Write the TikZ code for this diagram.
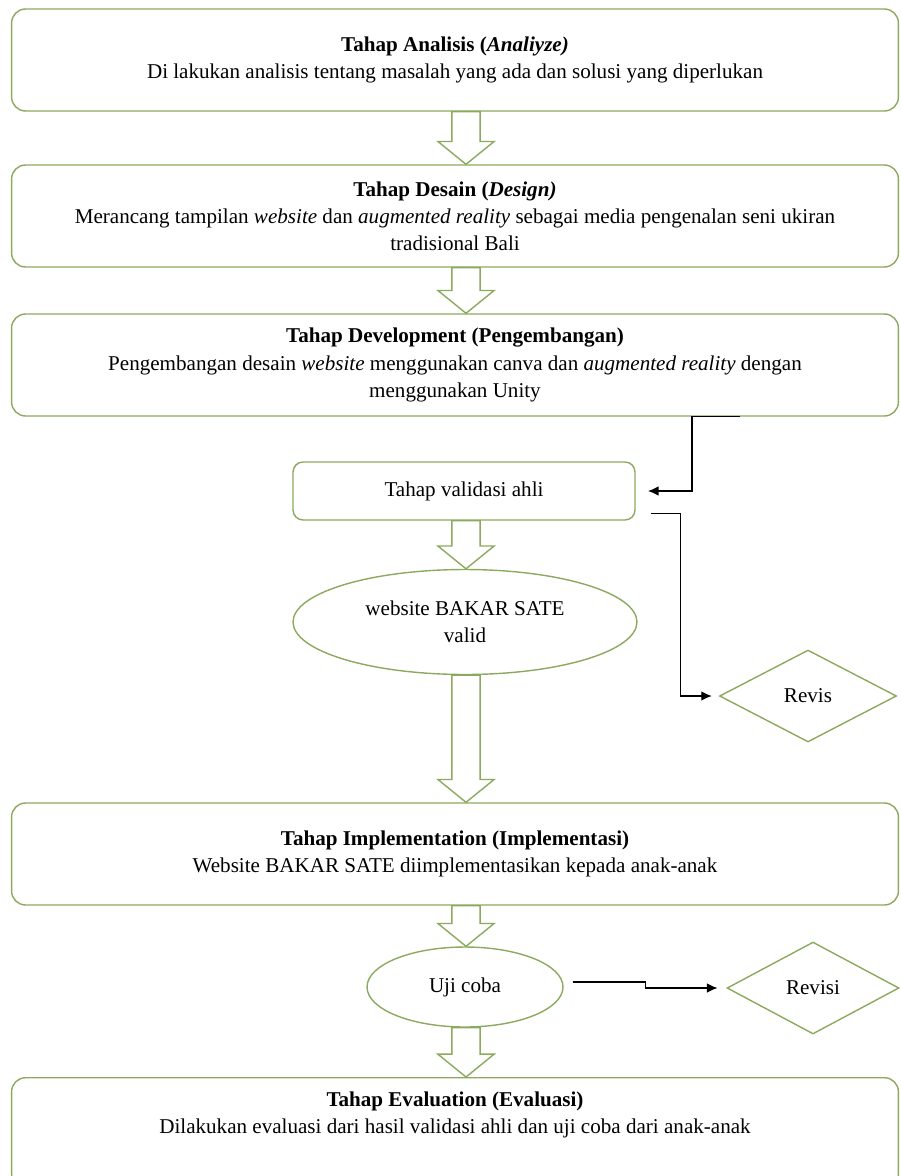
\documentclass[tikz,border=0pt]{standalone}
\usepackage{fontspec}
\setmainfont{Liberation Serif}
\usepackage{tikz}
\usetikzlibrary{positioning}
\usetikzlibrary{shapes.geometric}
\usetikzlibrary{calc}
\usetikzlibrary{arrows.meta}

\definecolor{boxgreen}{RGB}{140,170,95}

\tikzset{
  tahap/.style={draw=boxgreen, line width=0.8pt, rounded corners=0.28cm, fill=white,
    minimum width=17.74cm, minimum height=2.04cm, align=center, font=\fontsize{12}{15.4}\selectfont},
  kotak/.style={draw=boxgreen, line width=0.8pt, rounded corners=0.2cm, fill=white,
    minimum width=6.84cm, minimum height=1.16cm, align=center, font=\fontsize{12}{15.4}\selectfont},
  elips/.style={draw=boxgreen, line width=0.8pt, ellipse, fill=white, align=center,
    font=\fontsize{12}{15.4}\selectfont},
  wajik/.style={draw=boxgreen, line width=0.8pt, diamond, aspect=2, fill=white,
    font=\fontsize{12}{15.4}\selectfont},
  panah/.style={draw=boxgreen, line width=0.8pt, to path={
    let \p1=(\tikztostart), \p2=(\tikztotarget) in
    (\x1-8pt,\y1) -- (\x1-8pt,\y2+13pt) -- (\x1-16pt,\y2+13pt) -- (\x1,\y2)
    -- (\x1+16pt,\y2+13pt) -- (\x1+8pt,\y2+13pt) -- (\x1+8pt,\y1) -- cycle}},
  garis/.style={draw=black, line width=0.8pt, -{Latex[length=6pt,width=5.5pt]}}
}

\begin{document}
\begin{tikzpicture}[x=0.02cm, y=-0.02cm]

\useasboundingbox[fill=white] (0,0) rectangle (900,1176);

\coordinate (tengah) at (466,0);
\coordinate (belok) at (740,0);

\node[tahap] (analisis) at (455,60) {\textbf{Tahap Analisis (\textit{Analiyze)}}\\
  Di lakukan analisis tentang masalah yang ada dan solusi yang diperlukan};

\node[tahap] (desain) at (455,216) {\textbf{Tahap Desain (\textit{Design)}}\\
  Merancang tampilan \textit{website} dan \textit{augmented reality} sebagai media pengenalan seni ukiran\\
  tradisional Bali};

\node[tahap] (develop) at (455,365) {\textbf{Tahap Development (Pengembangan)}\\
  Pengembangan desain \textit{website} menggunakan canva dan \textit{augmented reality} dengan\\
  menggunakan Unity};

\node[kotak] (validasi) at (464,491) {Tahap validasi ahli};

\node[elips, minimum width=6.88cm, minimum height=2.1cm] (valid) at (465,622) {website BAKAR SATE\\valid};

\node[wajik, minimum width=3.54cm, minimum height=1.84cm] (revis) at (808,696) {Revis};

\node[tahap] (implement) at (455,854) {\textbf{Tahap Implementation (Implementasi)}\\
  Website BAKAR SATE diimplementasikan kepada anak-anak};

\node[elips, minimum width=3.92cm, minimum height=1.6cm] (uji) at (465,987) {Uji coba};

\node[wajik, minimum width=3.44cm, minimum height=1.84cm] (revisi) at (813,988) {Revisi};

\node[tahap, anchor=north, minimum height=2.2cm] (evaluasi) at (455,1077) {\textbf{Tahap Evaluation (Evaluasi)}\\
  Dilakukan evaluasi dari hasil validasi ahli dan uji coba dari anak-anak\rule[-23pt]{0pt}{0pt}};

\draw[panah] (analisis.south -| tengah) to (desain.north -| tengah);
\draw[panah] (desain.south -| tengah) to (develop.north -| tengah);
\draw[panah] (validasi.south -| tengah) to (valid.north -| tengah);
\draw[panah] (valid.south -| tengah) to (implement.north -| tengah);
\draw[panah] (implement.south -| tengah) to (uji.north -| tengah);
\draw[panah] (uji.south -| tengah) to (evaluasi.north -| tengah);

\draw[garis, shorten >=7pt] (develop.south -| belok) -- ++(-48,0) |- (validasi.east);
\draw[garis, shorten >=4pt] ([shift={(15,-7)}]validasi.south east) -- ++(30,0) |- (revis.west);
\draw[garis, shorten >=5pt] ([shift={(9,-5)}]uji.east) -- ++(73,0) |- (revisi.west);

\end{tikzpicture}
\end{document}
